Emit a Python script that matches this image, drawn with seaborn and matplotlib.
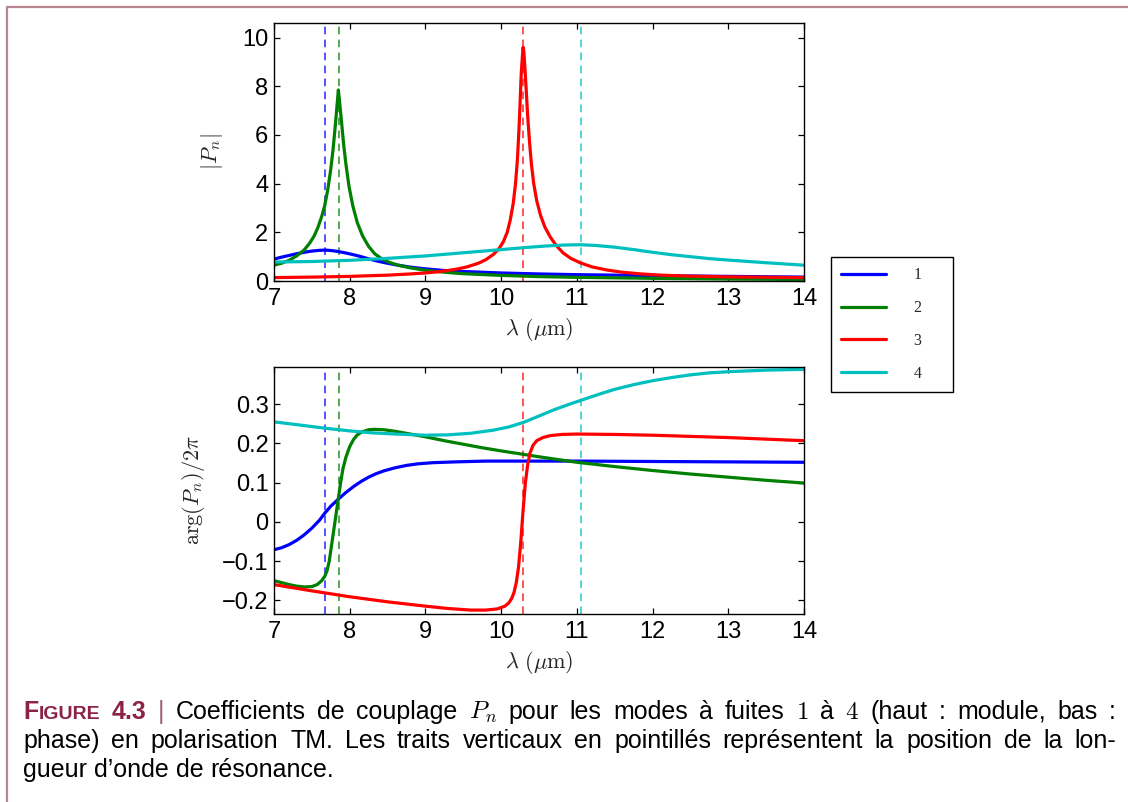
import numpy as np
import pandas as pd
import matplotlib
matplotlib.use("Agg")
import matplotlib.pyplot as plt
import seaborn as sns
from matplotlib.lines import Line2D

# ---------------- data ----------------
modes = ["1", "2", "3", "4"]
colors = ["#0000ff", "#008000", "#ff0000", "#00bfbf"]
resonances = [7.67, 7.86, 10.29, 11.05]

# |P_n|
lam_top_1 = [7.0, 7.1, 7.2, 7.3, 7.4, 7.5, 7.6, 7.68, 7.76, 7.85, 7.95, 8.05, 8.15, 8.25, 8.35, 8.45, 8.6,
             8.8, 9.0, 9.25, 9.5, 10.0, 10.5, 11.0, 11.5, 12.0, 13.0, 14.0]
mag_1 = [0.9, 0.98, 1.05, 1.12, 1.18, 1.23, 1.26, 1.27, 1.25, 1.21, 1.15, 1.08, 1.0, 0.91, 0.83, 0.76, 0.67,
         0.57, 0.5, 0.43, 0.39, 0.33, 0.29, 0.26, 0.24, 0.22, 0.19, 0.16]

lam_top_2 = [7.0, 7.1, 7.2, 7.3, 7.4, 7.47, 7.53, 7.58, 7.63, 7.67, 7.71, 7.75, 7.78, 7.81, 7.835, 7.85,
             7.865, 7.89, 7.92, 7.95, 7.99, 8.04, 8.1, 8.17, 8.25, 8.33, 8.42, 8.52, 8.65, 8.8, 9.0, 9.25,
             9.5, 10.0, 10.5, 11.0, 12.0, 13.0, 14.0]
mag_2 = [0.65, 0.73, 0.85, 1.03, 1.28, 1.55, 1.85, 2.2, 2.65, 3.1, 3.75, 4.6, 5.4, 6.4, 7.3, 7.85,
         7.4, 6.6, 5.6, 4.8, 3.9, 3.1, 2.4, 1.85, 1.42, 1.12, 0.92, 0.77, 0.64, 0.54, 0.44, 0.36,
         0.3, 0.23, 0.18, 0.15, 0.11, 0.08, 0.06]

lam_top_3 = [7.0, 7.5, 8.0, 8.5, 8.8, 9.0, 9.2, 9.4, 9.55, 9.7, 9.8, 9.9, 9.97, 10.03, 10.08, 10.12, 10.16,
             10.19, 10.215, 10.235, 10.25, 10.265, 10.28, 10.29, 10.30, 10.315, 10.33, 10.35, 10.375, 10.40,
             10.43, 10.47, 10.52, 10.58, 10.65, 10.73, 10.82, 10.92, 11.05, 11.2, 11.4, 11.6, 11.85, 12.1,
             12.5, 13.0, 13.5, 14.0]
mag_3 = [0.14, 0.16, 0.19, 0.24, 0.29, 0.33, 0.39, 0.48, 0.58, 0.73, 0.88, 1.1, 1.32, 1.62, 2.0, 2.5, 3.2,
         4.0, 5.0, 6.2, 7.3, 8.5, 9.2, 9.6, 9.4, 8.7, 7.9, 6.8, 5.7, 4.8,
         4.0, 3.3, 2.7, 2.2, 1.8, 1.45, 1.15, 0.93, 0.74, 0.58, 0.45, 0.36, 0.29, 0.24,
         0.2, 0.17, 0.155, 0.14]

lam_top_4 = [7.0, 7.5, 8.0, 8.5, 9.0, 9.5, 10.0, 10.3, 10.6, 10.85, 11.05, 11.25, 11.5, 11.75, 12.0, 12.25,
             12.5, 12.75, 13.0, 13.5, 14.0]
mag_4 = [0.78, 0.8, 0.85, 0.93, 1.03, 1.16, 1.29, 1.37, 1.44, 1.48, 1.49, 1.46, 1.39, 1.29, 1.18, 1.08,
         1.0, 0.92, 0.86, 0.75, 0.65]

# arg(P_n)/2pi
lam_bot_1 = [7.0, 7.1, 7.2, 7.3, 7.4, 7.5, 7.6, 7.67, 7.75, 7.85, 7.95, 8.05, 8.15, 8.25, 8.35, 8.45, 8.6,
             8.75, 8.9, 9.1, 9.4, 9.8, 10.5, 11.0, 12.0, 13.0, 14.0]
phase_1 = [-0.071, -0.066, -0.058, -0.047, -0.033, -0.016, 0.004, 0.022, 0.04, 0.058, 0.075, 0.09, 0.103,
           0.114, 0.123, 0.13, 0.138, 0.144, 0.148, 0.151, 0.153, 0.155, 0.155, 0.155, 0.154, 0.153, 0.152]

lam_bot_2 = [7.0, 7.1, 7.2, 7.3, 7.4, 7.5, 7.57, 7.63, 7.67, 7.7, 7.73, 7.76, 7.79, 7.82, 7.85, 7.88, 7.91,
             7.95, 8.0, 8.05, 8.1, 8.17, 8.25, 8.33, 8.45, 8.6, 8.8, 9.0, 9.25, 9.5, 9.75, 10.0, 10.5,
             11.0, 11.5, 12.0, 12.5, 13.0, 13.5, 14.0]
phase_2 = [-0.150, -0.155, -0.160, -0.164, -0.166, -0.165, -0.160, -0.150, -0.139, -0.125, -0.10, -0.06,
           -0.02, 0.02, 0.06, 0.10, 0.135, 0.165, 0.192, 0.21, 0.222, 0.23, 0.235, 0.236, 0.235, 0.231,
           0.224, 0.217, 0.207, 0.198, 0.189, 0.181, 0.166, 0.152, 0.141, 0.131, 0.122, 0.114, 0.106, 0.099]

lam_bot_3 = [7.0, 7.5, 8.0, 8.5, 9.0, 9.3, 9.6, 9.8, 9.95, 10.05, 10.1, 10.14, 10.17, 10.2, 10.23, 10.26,
             10.29, 10.32, 10.35, 10.38, 10.42, 10.47, 10.55, 10.65, 10.8, 11.0, 11.5, 12.0, 12.5, 13.0,
             13.5, 14.0]
phase_3 = [-0.16, -0.176, -0.191, -0.204, -0.215, -0.221, -0.225, -0.225, -0.222, -0.215, -0.207, -0.195,
           -0.18, -0.155, -0.115, -0.05, 0.03, 0.1, 0.145, 0.175, 0.195, 0.207, 0.215, 0.22, 0.223, 0.224,
           0.223, 0.221, 0.218, 0.215, 0.211, 0.207]

lam_bot_4 = [7.0, 7.3, 7.67, 8.0, 8.3, 8.6, 9.0, 9.3, 9.6, 9.9, 10.1, 10.3, 10.5, 10.7, 10.9, 11.1, 11.3,
             11.5, 11.75, 12.0, 12.25, 12.5, 12.75, 13.0, 13.5, 14.0]
phase_4 = [0.255, 0.248, 0.239, 0.232, 0.227, 0.224, 0.221, 0.222, 0.226, 0.234, 0.242, 0.254, 0.27,
           0.286, 0.300, 0.313, 0.326, 0.338, 0.35, 0.36, 0.368, 0.375, 0.38, 0.383, 0.387, 0.389]

xticks = [7, 8, 9, 10, 11, 12, 13, 14]
yticks_top = [0, 2, 4, 6, 8, 10]
yticks_bot = [-0.2, -0.1, 0.0, 0.1, 0.2, 0.3]
yticklabels_bot = ["\u22120.2", "\u22120.1", "0", "0.1", "0.2", "0.3"]


def long_frame(lams, vals):
    parts = []
    for m, l, v in zip(modes, lams, vals):
        parts.append(pd.DataFrame({"lam": l, "val": v, "mode": m}))
    return pd.concat(parts, ignore_index=True)


df_top = long_frame([lam_top_1, lam_top_2, lam_top_3, lam_top_4], [mag_1, mag_2, mag_3, mag_4])
df_bot = long_frame([lam_bot_1, lam_bot_2, lam_bot_3, lam_bot_4], [phase_1, phase_2, phase_3, phase_4])

# ---------------- style ----------------
sns.set_theme(style="ticks")
plt.rcParams["font.family"] = ["Liberation Sans", "DejaVu Sans"]
plt.rcParams["mathtext.fontset"] = "cm"
plt.rcParams["axes.edgecolor"] = "black"
plt.rcParams["axes.linewidth"] = 1.0

W, H = 1128, 802
fig = plt.figure(figsize=(W / 100, H / 100), dpi=100)
ax1 = fig.add_axes([274 / W, 1 - 281 / H, 530 / W, 258 / H])
ax2 = fig.add_axes([274 / W, 1 - 614 / H, 530 / W, 247 / H])

palette = dict(zip(modes, colors))
for ax, df in ((ax1, df_top), (ax2, df_bot)):
    sns.lineplot(data=df, x="lam", y="val", hue="mode", hue_order=modes, palette=palette,
                 estimator=None, sort=False, linewidth=2.3, legend=False, ax=ax)
    for line in ax.get_lines():
        line.set_solid_joinstyle("round")
    for xr, c in zip(resonances, colors):
        ax.axvline(xr, color=c, lw=1.1, ls=(0, (5, 3.5)), zorder=1, alpha=0.85)
    ax.set_xlim(7, 14)
    ax.set_xticks(xticks)
    ax.tick_params(direction="in", top=True, right=True, length=4, width=0.9,
                   labelsize=17, colors="black", pad=5)
    ax.tick_params(axis="y", pad=4)
    ax.set_xlabel(r"$\lambda\ (\mathrm{\mu m})$", fontsize=16)
    ax.xaxis.label.set_va("top")

ax1.set_ylim(0, 10.6)
ax1.set_yticks(yticks_top)
ax2.set_ylim(-0.235, 0.395)
ax2.set_yticks(yticks_bot)
ax2.set_yticklabels(yticklabels_bot)

ax1.set_ylabel(r"$|P_n|$", fontsize=16)
ax2.set_ylabel(r"$\mathrm{arg}(P_n)/2\pi$", fontsize=16)
ax1.yaxis.set_label_coords(-0.092, 0.5)
ax2.yaxis.set_label_coords(-0.126, 0.5)
ax1.xaxis.set_label_coords(0.5, -0.135)
ax2.xaxis.set_label_coords(0.5, -0.14)

# legend
handles = [Line2D([], [], color=c, lw=2.3) for c in colors]
leg = fig.legend(handles, modes, loc="upper left",
                 bbox_to_anchor=(831 / W, 1 - 402 / H, 122 / W, 145 / H), mode="expand",
                 prop={"family": "Liberation Serif", "size": 11.5}, handlelength=2.8,
                 handletextpad=1.7, labelspacing=1.05, borderpad=0.65, borderaxespad=0,
                 fancybox=False, framealpha=1, edgecolor="black")
leg.get_frame().set_linewidth(1.0)

# page frame lines
frame_col = "#b8878f"
fig.add_artist(Line2D([7 / W, 1], [1 - 7 / H, 1 - 7 / H], color=frame_col, lw=1.6, transform=fig.transFigure))
fig.add_artist(Line2D([7 / W, 7 / W], [1 - 7 / H, 0], color=frame_col, lw=1.6, transform=fig.transFigure))

# ---------------- caption (justified) ----------------
maroon = "#8b2346"
FS = 18
renderer = fig.canvas.get_renderer()


def word(*segs):
    return list(segs)


cap_lines = [
    [word(("F", dict(fontsize=FS, weight="bold", color=maroon)),
          ("IGURE", dict(fontsize=FS * 0.78, weight="bold", color=maroon))),
     word(("4.3", dict(fontsize=FS, weight="bold", color=maroon))),
     word(("|", dict(fontsize=FS, color="#9a6070"))),
     word(("Coefficients", {})), word(("de", {})), word(("couplage", {})),
     word((r"$P_n$", {})), word(("pour", {})), word(("les", {})), word(("modes", {})),
     word(("à", {})), word(("fuites", {})), word((r"$1$", {})), word(("à", {})),
     word((r"$4$", {})), word(("(haut", {})), word((":", {})), word(("module,", {})),
     word(("bas", {})), word((":", {}))],
    [word((w, {})) for w in "phase) en polarisation TM. Les traits verticaux en pointillés représentent la position de la lon-".split()],
    [word((w, {})) for w in "gueur d’onde de résonance.".split()],
]
baselines = [719, 748, 777]
x_left, x_right = 23, 1116

for li, (wlist, yb) in enumerate(zip(cap_lines, baselines)):
    placed = []
    for wsegs in wlist:
        segs = []
        for s, kw in wsegs:
            kw2 = dict(fontsize=FS, color="black")
            kw2.update(kw)
            t = fig.text(0, 1 - yb / H, s, ha="left", va="baseline", **kw2)
            segs.append(t)
        placed.append(segs)
    widths = [[t.get_window_extent(renderer).width for t in segs] for segs in placed]
    total = sum(sum(w) for w in widths)
    nat_space = 0.278 * FS * 100 / 72
    if li < 2:
        gap = (x_right - x_left - total) / (len(placed) - 1)
    else:
        gap = nat_space
    x = x_left
    for segs, ws in zip(placed, widths):
        for t, w in zip(segs, ws):
            t.set_x(x / W)
            x += w
        x += gap

fig.savefig("out.png", dpi=100)
